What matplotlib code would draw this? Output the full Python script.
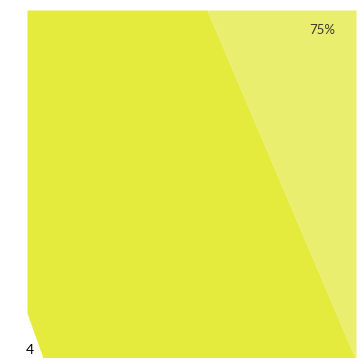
import matplotlib
matplotlib.use("Agg")
import matplotlib.pyplot as plt

# band heights (bottom -> top) and where each area ends along them
levels = [0, 45, 348]
left_edge = [16, 0, 0]
split_edge = [328, 309, 180]
right_edge = [329, 329, 329]

main_color = "#e4eb3d"
light_color = "#e9ee6f"

share_label = "75%"
corner_label = "4"

fig = plt.figure(figsize=(3.61, 3.58), dpi=100)
ax = fig.add_axes([27 / 361, 0, 329 / 361, 348 / 358])

ax.fill_betweenx(levels, left_edge, split_edge, color=main_color, lw=0)
ax.fill_betweenx(levels, split_edge, right_edge, color=light_color, lw=0)

ax.set_xlim(0, 329)
ax.set_ylim(0, 348)
ax.axis("off")

fig.text(322.5 / 361, 1 - 30.5 / 358, share_label, ha="center", va="center",
         fontsize=9.5, color="#3a3a2a", family="Lato")
fig.text(30 / 361, 1 - 350.5 / 358, corner_label, ha="center", va="center",
         fontsize=10, color="black", family="Lato")

fig.savefig("out.png", dpi=100)
